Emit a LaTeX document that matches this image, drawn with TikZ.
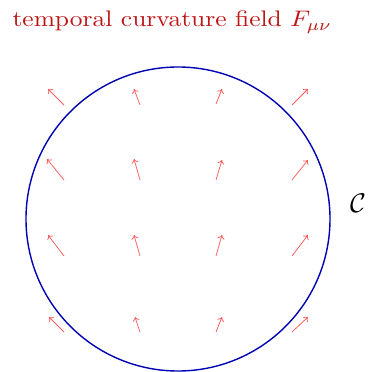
\documentclass[tikz,border=0pt]{standalone}
\usetikzlibrary{arrows.meta}
\definecolor{titlered}{RGB}{190,20,20}
\definecolor{fieldred}{RGB}{255,90,90}
\definecolor{loopblue}{RGB}{0,0,180}
\begin{document}
\begin{tikzpicture}[x=1pt,y=1pt,
  fieldarrow/.style={draw=fieldred,line width=0.75pt,-{To[length=4pt,width=7pt]}},
  loopline/.style={draw=loopblue,line width=1.4pt}]
\useasboundingbox (0,0) rectangle (368,372);
\node[anchor=base west,text=titlered,xscale=2.55,yscale=2.25,inner sep=0pt] (title) at (12,345) {temporal curvature field $F_{\mu\nu}$};
\node[loopline,circle,minimum size=304pt,inner sep=0pt] (loop) at (178,153) {};
\node[scale=2.7,inner sep=0pt] (clabel) at (358,169) {$\mathcal{C}$};
% row 1
\draw[fieldarrow] (64,267) -- (48,283);
\draw[fieldarrow] (140,267) -- (134,283);
\draw[fieldarrow] (216,268) -- (222,283);
\draw[fieldarrow] (292,267) -- (308,283);
% row 2
\draw[fieldarrow] (64,192) -- (47,213);
\draw[fieldarrow] (140,192) -- (134,213);
\draw[fieldarrow] (216,192) -- (222,212);
\draw[fieldarrow] (292,192) -- (308,212);
% row 3
\draw[fieldarrow] (64,116) -- (48,137);
\draw[fieldarrow] (140,116) -- (134,137);
\draw[fieldarrow] (216,116) -- (222,137);
\draw[fieldarrow] (292,116) -- (308,137);
% row 4
\draw[fieldarrow] (64,40) -- (49,55);
\draw[fieldarrow] (140,40) -- (135,55);
\draw[fieldarrow] (216,40) -- (222,55);
\draw[fieldarrow] (292,40) -- (308,55);
\end{tikzpicture}
\end{document}
